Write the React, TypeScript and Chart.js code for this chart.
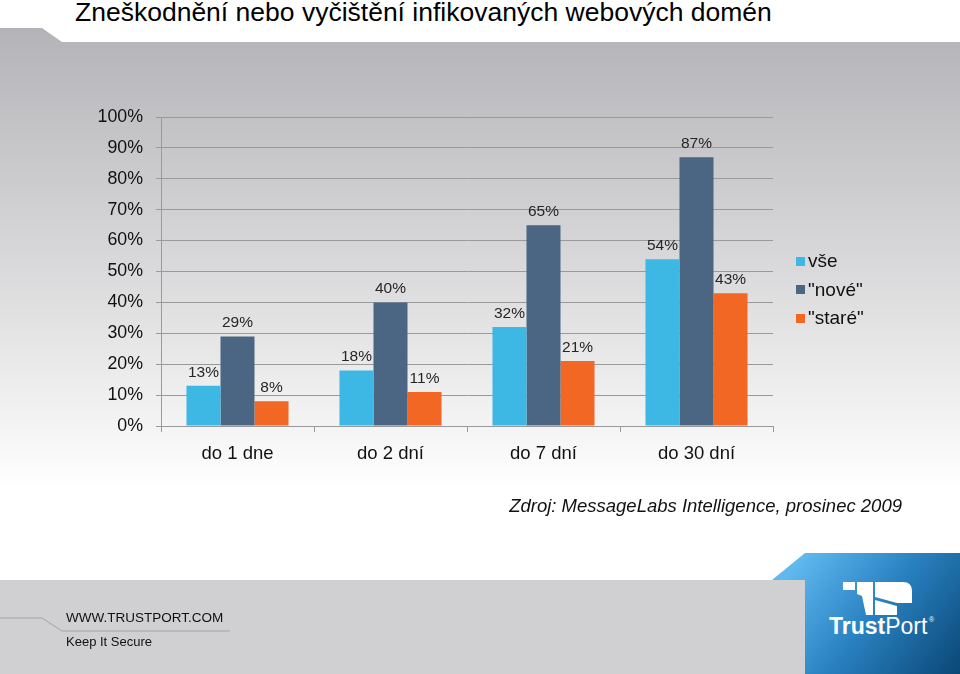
import React, { useEffect, useRef } from "react";
import { Chart, registerables } from "chart.js";

Chart.register(...registerables);

const categories = ["do 1 dne", "do 2 dní", "do 7 dní", "do 30 dní"];
const seriesVse = [13, 18, 32, 54];
const seriesNove = [29, 40, 65, 87];
const seriesStare = [8, 11, 21, 43];
const seriesNames = ["vše", "\"nové\"", "\"staré\""];
const seriesColors = ["#3db8e5", "#4a6683", "#f26724"];
const yMax = 100;
const yStep = 10;

const titleText = "Zneškodnění nebo vyčištění infikovaných webových domén";
const sourceText = "Zdroj: MessageLabs Intelligence, prosinec 2009";

const FONT = "'Liberation Sans', Arial, sans-serif";

const dataLabelPlugin = {
  id: "dataLabels",
  afterDatasetsDraw(chart: any) {
    const ctx = chart.ctx;
    ctx.save();
    ctx.font = `15.5px ${FONT}`;
    ctx.fillStyle = "#262626";
    ctx.textAlign = "center";
    ctx.textBaseline = "alphabetic";
    chart.data.datasets.forEach((ds: any, i: number) => {
      const meta = chart.getDatasetMeta(i);
      meta.data.forEach((el: any, j: number) => {
        ctx.fillText(`${ds.data[j]}%`, el.x, el.y - 9);
      });
    });
    ctx.restore();
  },
};

function ChartCanvas() {
  const ref = useRef<HTMLCanvasElement | null>(null);
  useEffect(() => {
    if (!ref.current) return;
    const allSeries = [seriesVse, seriesNove, seriesStare];
    const chart = new Chart(ref.current, {
      type: "bar",
      data: {
        labels: categories,
        datasets: allSeries.map((d, i) => ({
          label: seriesNames[i],
          data: d,
          backgroundColor: seriesColors[i],
          borderWidth: 0,
          barPercentage: 1,
          categoryPercentage: 0.667,
        })),
      },
      options: {
        animation: false,
        responsive: false,
        maintainAspectRatio: false,
        layout: { padding: { left: 0, right: 187, top: 117, bottom: 188 } },
        plugins: {
          legend: { display: false },
          tooltip: { enabled: false },
          title: { display: false },
        },
        scales: {
          x: {
            grid: {
              drawOnChartArea: false,
              drawTicks: true,
              tickLength: 6,
              color: "#9a9a9a",
              offset: true,
            },
            border: { color: "#9a9a9a" },
            ticks: {
              font: { family: FONT, size: 18.5 },
              color: "#111",
              padding: 11,
            },
            afterFit: (s: any) => {
              s.height = 60;
            },
          },
          y: {
            min: 0,
            max: yMax,
            ticks: {
              stepSize: yStep,
              callback: (v: any) => `${v}%`,
              font: { family: FONT, size: 17.8 },
              color: "#111",
              padding: 13,
            },
            grid: { color: "#9a9a9a", tickLength: 5 },
            border: { color: "#9a9a9a" },
            afterFit: (s: any) => {
              s.width = 161;
            },
          },
        },
      },
      plugins: [dataLabelPlugin],
    });
    return () => chart.destroy();
  }, []);
  return (
    <canvas
      ref={ref}
      width={960}
      height={674}
      style={{ position: "absolute", left: 0, top: 0, width: 960, height: 674 }}
    />
  );
}

export default function App() {
  return (
    <div
      style={{
        position: "fixed",
        left: 0,
        top: 0,
        width: 960,
        height: 674,
        overflow: "hidden",
        background: "#fff",
        fontFamily: FONT,
      }}
    >
      <svg
        width={960}
        height={674}
        style={{ position: "absolute", left: 0, top: 0 }}
      >
        <defs>
          <linearGradient id="bandGrad" x1="0" y1="28" x2="0" y2="490" gradientUnits="userSpaceOnUse">
            <stop offset="0" stopColor="#b4b4b8" />
            <stop offset="0.5" stopColor="#d8d8da" />
            <stop offset="0.85" stopColor="#f3f3f3" />
            <stop offset="1" stopColor="#ffffff" />
          </linearGradient>
          <linearGradient id="logoGrad" x1="805" y1="553" x2="960" y2="674" gradientUnits="userSpaceOnUse">
            <stop offset="0" stopColor="#5fb8ee" />
            <stop offset="0.45" stopColor="#2a82c2" />
            <stop offset="1" stopColor="#0a4775" />
          </linearGradient>
        </defs>
        <path d="M0,28 L42,28 L62,42 L960,42 L960,490 L0,490 Z" fill="url(#bandGrad)" />
        <rect x={0} y={580} width={806} height={94} fill="#d0d0d2" />
        <path d="M0,618 L42,618 L62,631 L230,631" stroke="#a3a3a6" strokeWidth={1} fill="none" />
        <path d="M772,580 L805,553 L960,553 L960,674 L805,674 L805,580 Z" fill="url(#logoGrad)" />
        <g fill="#ffffff">
          <rect x={843} y={582} width={12} height={8} />
          <path d="M857,582 L873,582 L873,615 L866,615 L862,596 L857,594 Z" />
          <path d="M875,582 L903,582 Q912,582 912,591 L912,603 L897,603 L875,597 Z" />
          <path d="M875,600 L897,606 L897,615 L875,615 Z" />
        </g>
        <text x={829} y={634} fill="#fff" fontFamily={FONT} fontSize={23}>
          <tspan fontWeight="bold">Trust</tspan>
          <tspan>Port</tspan>
        </text>
        <text x={929} y={622} fill="#fff" fontFamily={FONT} fontSize={7}>®</text>
      </svg>
      <div
        style={{
          position: "absolute",
          left: 75,
          top: -3,
          fontSize: 26.5,
          color: "#000",
          whiteSpace: "nowrap",
        }}
      >
        {titleText}
      </div>
      <ChartCanvas />
      <div style={{ position: "absolute", left: 796, top: 247, fontSize: 19, color: "#111" }}>
        {seriesNames.map((n, i) => (
          <div key={n} style={{ display: "flex", alignItems: "center", height: 28.5 }}>
            <span
              style={{
                display: "inline-block",
                width: 9,
                height: 9,
                background: seriesColors[i],
                marginRight: 3,
              }}
            />
            <span>{n}</span>
          </div>
        ))}
      </div>
      <div
        style={{
          position: "absolute",
          right: 58,
          top: 495,
          fontSize: 18.5,
          fontStyle: "italic",
          color: "#111",
          whiteSpace: "nowrap",
        }}
      >
        {sourceText}
      </div>
      <div style={{ position: "absolute", left: 66, top: 610, fontSize: 13.5, color: "#111" }}>
        WWW.TRUSTPORT.COM
      </div>
      <div style={{ position: "absolute", left: 66, top: 634, fontSize: 13, color: "#111" }}>
        Keep It Secure
      </div>
    </div>
  );
}
